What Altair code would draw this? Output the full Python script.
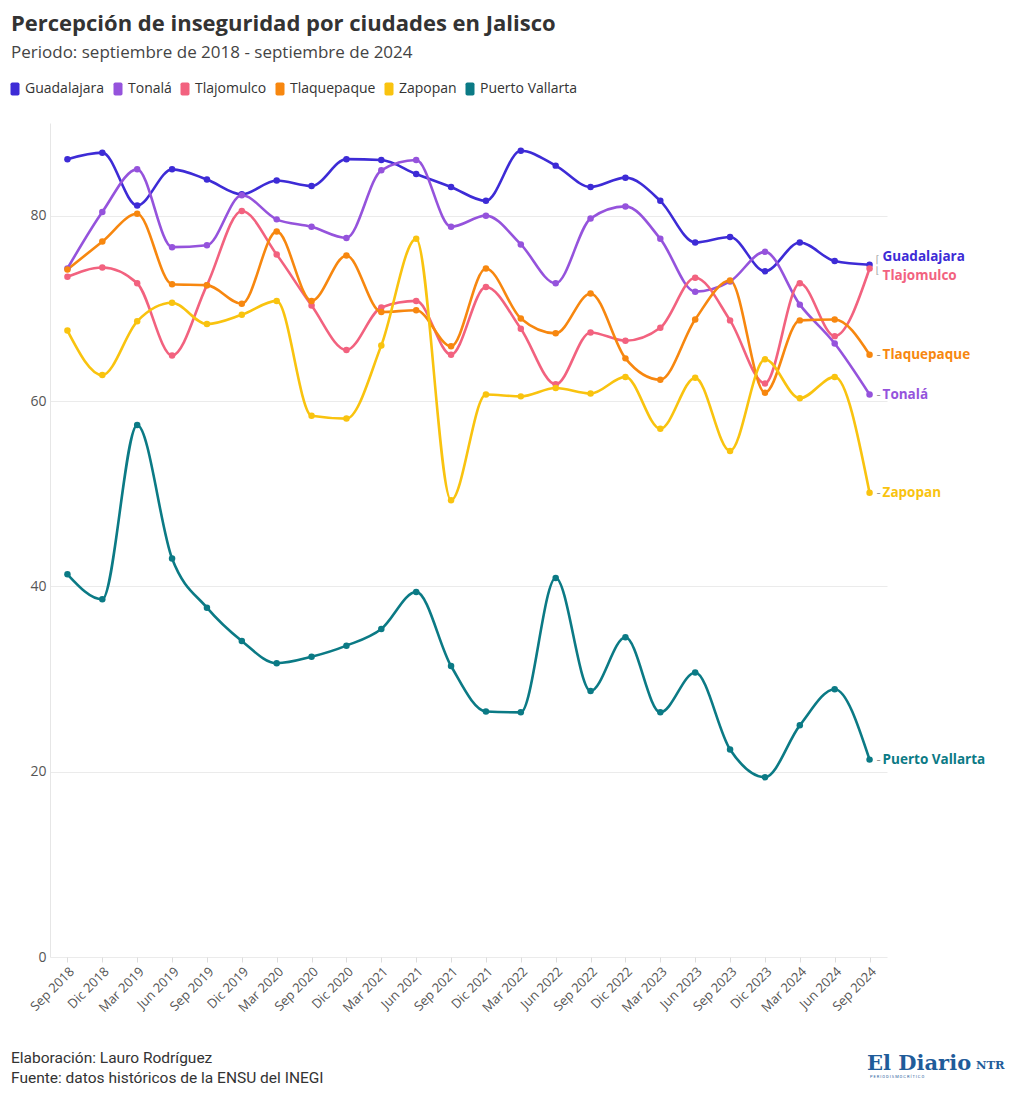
import altair as alt
import pandas as pd

fechas = ["Sep 2018", "Dic 2018", "Mar 2019", "Jun 2019", "Sep 2019", "Dic 2019",
          "Mar 2020", "Sep 2020", "Dic 2020", "Mar 2021", "Jun 2021", "Sep 2021",
          "Dic 2021", "Mar 2022", "Jun 2022", "Sep 2022", "Dic 2022", "Mar 2023",
          "Jun 2023", "Sep 2023", "Dic 2023", "Mar 2024", "Jun 2024", "Sep 2024"]

ciudades = ["Guadalajara", "Tonalá", "Tlajomulco", "Tlaquepaque", "Zapopan", "Puerto Vallarta"]
colores = ["#3d2bd6", "#9553dc", "#f2627f", "#f7870f", "#f9c30f", "#0b7a85"]

guadalajara = [86.1, 86.8, 81.1, 85.0, 83.9, 82.3, 83.8, 83.2, 86.1, 86.0, 84.5, 83.1,
               81.6, 87.0, 85.4, 83.1, 84.1, 81.6, 77.1, 77.7, 74.0, 77.1, 75.1, 74.7]
tonala = [74.3, 80.4, 85.0, 76.6, 76.8, 82.2, 79.6, 78.8, 77.6, 84.9, 86.0, 78.8,
          80.0, 76.9, 72.7, 79.7, 81.0, 77.5, 71.8, 72.9, 76.1, 70.4, 66.2, 60.7]
tlajomulco = [73.4, 74.4, 72.7, 64.9, 72.5, 80.5, 75.8, 70.3, 65.5, 70.1, 70.8, 65.0,
              72.3, 67.8, 61.8, 67.4, 66.5, 67.9, 73.3, 68.7, 61.9, 72.7, 67.0, 74.3]
tlaquepaque = [74.2, 77.2, 80.2, 72.6, 72.5, 70.5, 78.3, 70.8, 75.7, 69.6, 69.8, 65.9,
               74.3, 68.9, 67.3, 71.6, 64.6, 62.3, 68.8, 73.0, 60.9, 68.7, 68.8, 65.0]
zapopan = [67.6, 62.8, 68.6, 70.6, 68.3, 69.3, 70.8, 58.4, 58.1, 66.0, 77.5, 49.3,
           60.7, 60.5, 61.4, 60.8, 62.6, 57.0, 62.5, 54.6, 64.5, 60.3, 62.6, 50.1]
puerto_vallarta = [41.3, 38.6, 57.4, 43.0, 37.7, 34.1, 31.7, 32.4, 33.6, 35.4, 39.4, 31.4,
                   26.5, 26.4, 40.9, 28.7, 34.5, 26.4, 30.7, 22.4, 19.4, 25.0, 28.9, 21.3]

series = [guadalajara, tonala, tlajomulco, tlaquepaque, zapopan, puerto_vallarta]

titulo = "Percepción de inseguridad por ciudades en Jalisco"
subtitulo = "Periodo: septiembre de 2018 - septiembre de 2024"
nota1 = "Elaboración: Lauro Rodríguez"
nota2 = "Fuente: datos históricos de la ENSU del INEGI"

rows = []
for c, vals in zip(ciudades, series):
    for f, v in zip(fechas, vals):
        rows.append({"fecha": f, "ciudad": c, "valor": v})
df = pd.DataFrame(rows)

FONT = "Open Sans"
W, H = 837, 834

x_enc = alt.X("fecha:N", sort=fechas, scale=alt.Scale(type="point", padding=0.5),
              axis=alt.Axis(title=None, labelAngle=-45, labelFontSize=13, labelColor="#555",
                            labelFont=FONT, domain=False, ticks=True, tickColor="#dddddd",
                            tickSize=5, labelPadding=3, grid=False))
y_enc = alt.Y("valor:Q", scale=alt.Scale(domain=[0, 90], nice=False),
              axis=alt.Axis(title=None, values=[0, 20, 40, 60, 80], labelFontSize=14,
                            labelColor="#555", labelFont=FONT, ticks=False, domain=True,
                            domainColor="#e6e6e6", gridColor="#ebebeb", labelPadding=4))
color_scale = alt.Scale(domain=ciudades, range=colores)

swatch = ("M-0.3,-0.72 H0.3 Q0.5,-0.72 0.5,-0.52 V0.52 Q0.5,0.72 0.3,0.72 H-0.3 "
          "Q-0.5,0.72 -0.5,0.52 V-0.52 Q-0.5,-0.72 -0.3,-0.72 Z")
LEG = alt.Legend(title=None, orient="none", legendX=-44, legendY=-43,
                 direction="horizontal", symbolType=swatch,
                 symbolSize=324, symbolStrokeWidth=0,
                 labelFontSize=14, labelColor="#333", labelFont=FONT,
                 labelOffset=1, columnPadding=4, symbolOpacity=1)
COL = alt.Color("ciudad:N", scale=color_scale, sort=ciudades, legend=LEG)

base = alt.Chart(df)

lines = base.mark_line(interpolate="monotone", strokeWidth=2.6).encode(
    x=x_enc, y=y_enc, color=COL, detail="ciudad:N",
)

points = base.mark_point(filled=True, size=42, opacity=1).encode(
    x=x_enc, y=y_enc, color=COL,
)

# empty layer that only drives the legend's swatch shape
legend_drv = base.transform_filter(alt.datum.valor < -1).mark_point(filled=True, opacity=0).encode(
    x=x_enc, y=y_enc, color=COL,
    shape=alt.Shape("ciudad:N", sort=ciudades,
                    scale=alt.Scale(domain=ciudades, range=[swatch] * len(ciudades)),
                    legend=LEG),
)

last = fechas[-1]
lab_base = base.transform_filter(alt.datum.fecha == last)

normal = ["Tonalá", "Tlaquepaque", "Zapopan", "Puerto Vallarta"]
dash = lab_base.transform_filter(alt.FieldOneOfPredicate(field="ciudad", oneOf=normal)).mark_text(
    align="left", baseline="middle", dx=7, fontSize=13, color="#999", font=FONT).encode(
    x=x_enc, y=y_enc, text=alt.value("-"))
names = lab_base.transform_filter(alt.FieldOneOfPredicate(field="ciudad", oneOf=normal)).mark_text(
    align="left", baseline="middle", dx=13, fontSize=13.5, fontWeight="bold", font=FONT).encode(
    x=x_enc, y=y_enc, text="ciudad:N", color=COL)

gdl = lab_base.transform_filter(alt.datum.ciudad == "Guadalajara").mark_text(
    align="left", baseline="middle", dx=13, dy=-8, fontSize=13.5, fontWeight="bold", font=FONT).encode(
    x=x_enc, y=y_enc, text="ciudad:N", color=COL)
gdl_b = lab_base.transform_filter(alt.datum.ciudad == "Guadalajara").mark_text(
    align="left", baseline="middle", dx=6, dy=-5, fontSize=10, color="#aaa", font="DejaVu Sans").encode(
    x=x_enc, y=y_enc, text=alt.value("⌈"))
tla = lab_base.transform_filter(alt.datum.ciudad == "Tlajomulco").mark_text(
    align="left", baseline="middle", dx=13, dy=8, fontSize=13.5, fontWeight="bold", font=FONT).encode(
    x=x_enc, y=y_enc, text="ciudad:N", color=COL)
tla_b = lab_base.transform_filter(alt.datum.ciudad == "Tlajomulco").mark_text(
    align="left", baseline="middle", dx=6, dy=3, fontSize=10, color="#aaa", font="DejaVu Sans").encode(
    x=x_enc, y=y_enc, text=alt.value("⌊"))

txt = pd.DataFrame({"t": [titulo, subtitulo, nota1, nota2],
                    "k": ["title", "sub", "n1", "n2"]})
tb = alt.Chart(txt)
title_m = tb.transform_filter(alt.datum.k == "title").mark_text(
    align="left", baseline="middle", fontSize=22, fontWeight="bold", color="#333", font=FONT).encode(
    x=alt.value(-39), y=alt.value(-99), text="t:N")
sub_m = tb.transform_filter(alt.datum.k == "sub").mark_text(
    align="left", baseline="middle", fontSize=17, color="#444", font=FONT).encode(
    x=alt.value(-39), y=alt.value(-70), text="t:N")
n1_m = tb.transform_filter(alt.datum.k == "n1").mark_text(
    align="left", baseline="middle", fontSize=15.5, color="#333", font="Roboto").encode(
    x=alt.value(-39), y=alt.value(935), text="t:N")
n2_m = tb.transform_filter(alt.datum.k == "n2").mark_text(
    align="left", baseline="middle", fontSize=15.5, color="#333", font="Roboto").encode(
    x=alt.value(-39), y=alt.value(955), text="t:N")

logo_df = pd.DataFrame({"t": ["El Diario", "NTR", "P E R I O D I S M O   C R Í T I C O"], "k": ["a", "b", "c"]})
lb = alt.Chart(logo_df)
logo1 = lb.transform_filter(alt.datum.k == "a").mark_text(
    align="left", baseline="alphabetic", fontSize=21, fontWeight="bold", color="#1f5c9a",
    font="DejaVu Serif").encode(x=alt.value(817), y=alt.value(947), text="t:N")
logo2 = lb.transform_filter(alt.datum.k == "b").mark_text(
    align="left", baseline="alphabetic", fontSize=11.5, fontWeight="bold", color="#1f5c9a",
    font="DejaVu Serif").encode(x=alt.value(926), y=alt.value(946), text="t:N")
logo3 = lb.transform_filter(alt.datum.k == "c").mark_text(
    align="left", baseline="middle", fontSize=4, color="#1f5c9a", font="Roboto").encode(
    x=alt.value(820), y=alt.value(954), text="t:N")

chart = alt.layer(lines, points, legend_drv, dash, names, gdl, gdl_b, tla, tla_b,
                  title_m, sub_m, n1_m, n2_m, logo1, logo2, logo3).properties(
    width=W, height=H,
    autosize=alt.AutoSizeParams(type="none"),
    padding={"left": 42, "top": 115, "right": 125, "bottom": 135},
    background="white",
).configure_view(stroke=None)

chart.save("out.html", embed_options={"renderer": "svg", "actions": False})
